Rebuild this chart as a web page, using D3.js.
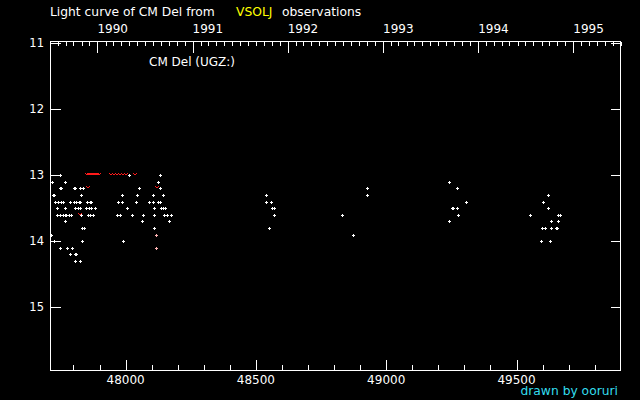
<!DOCTYPE html>
<html><head><meta charset="utf-8">
<script src="https://cdn.jsdelivr.net/npm/d3@7"></script>
<style>
html,body{margin:0;padding:0;background:#000;}
svg{display:block;}
text{font-family:"DejaVu Sans",sans-serif;}
</style>
</head><body>
<svg id="chart" width="640" height="400"></svg>
<script>
// ---- data (MJD = JD - 2400000, visual magnitude) ----
const obsMJD = [
 47749,
 47719,47769,
 47747,47753,47801,47807,47824,47836,
 47720,47726,47828,
 47730,47741,47751,47760,47785,47801,47811,47820,47826,47852,47862,47868,
 47738,47769,47805,47817,47826,47849,47858,47866,47884,
 47738,47747,47760,47766,47772,47782,47792,47830,47856,47862,47875,
 47766,
 47834,47839,
 47715,
 47725,47834,
 47749,47775,47794,
 47785,47805,47811,
 47807,47826,
 48014,48133,
 48125,
 48053,48133,
 47985,48043,48106,48142,
 47972,47987,48039,48091,48106,48123,48132,
 48004,48110,48135,48145,48151,
 47966,47978,48023,48068,48110,48148,48160,48173,
 48064,48168,
 48110,
 47991,
 48540,48540,48559,48560,48568,48571,48551,48832,48928,48928,48874,
 49242,49273,49307,49251,49258,49273,49277,49242,
 49622,49603,49622,49553,49660,49666,49634,49660,49599,49611,49634,49650,49656,49595,49630
];
const obsMag = [
 13.0,
 13.1,13.1,
 13.2,13.2,13.2,13.2,13.2,13.2,
 13.3,13.3,13.3,
 13.4,13.4,13.4,13.4,13.4,13.4,13.4,13.4,13.4,13.4,13.4,13.4,
 13.5,13.5,13.5,13.5,13.5,13.5,13.5,13.5,13.5,
 13.6,13.6,13.6,13.6,13.6,13.6,13.6,13.6,13.6,13.6,13.6,
 13.7,
 13.8,13.8,
 13.9,
 14.0,14.0,
 14.1,14.1,14.1,
 14.2,14.2,14.2,
 14.3,14.3,
 13.0,13.0,
 13.1,
 13.2,13.2,
 13.3,13.3,13.3,13.3,
 13.4,13.4,13.4,13.4,13.4,13.4,13.4,
 13.5,13.5,13.5,13.5,13.5,
 13.6,13.6,13.6,13.6,13.6,13.6,13.6,13.6,
 13.7,13.7,
 13.8,
 14.0,
 13.3,13.4,13.4,13.5,13.5,13.6,13.8,13.6,13.2,13.3,13.9,
 13.1,13.2,13.4,13.5,13.5,13.5,13.6,13.7,
 13.3,13.4,13.5,13.6,13.6,13.6,13.7,13.7,13.8,13.8,13.8,13.8,13.8,14.0,14.0
];
// fainter-than limits (red v)
const limitMJD = [47852,47860,47868,47875,47883,47891,47898,47944,47955,47967,47978,47990,48001,48036,47857,48122,47826];
const limitMag = [13.0,13.0,13.0,13.0,13.0,13.0,13.0,13.0,13.0,13.0,13.0,13.0,13.0,13.0,13.2,13.2,13.6];
// uncertain observations (pink +)
const uncMJD = [48118,48118];
const uncMag = [13.9,14.1];

const magTicks = [11,12,13,14,15];
const mjdTicks = [48000,48500,49000,49500];
const mjdMinorTicks = d3.range(47800,49900,100).filter(d => d % 500 !== 0);

// ---- scales ----
const W = 640, H = 400;
const fL = 50.5, fR = 620.5, fT = 41.5, fB = 370.5;
const x = d3.scaleLinear().domain([47711, 49899]).range([50.3, 620.5]);
const y = d3.scaleLinear().domain([11, 16]).range([43.3, 373.3]);
const mjdToDate = m => new Date((m - 40587) * 86400000);
const xt = d3.scaleUtc().domain(x.domain().map(mjdToDate)).range(x.range());

const svg = d3.select("#chart");
svg.append("rect").attr("width",W).attr("height",H).attr("fill","#000");

const px = v => Math.round(v) + 0.5;

// frame
svg.append("rect").attr("x",fL).attr("y",fT)
  .attr("width",fR-fL).attr("height",fB-fT)
  .attr("fill","none").attr("stroke","#fff").attr("stroke-width",1)
  .attr("shape-rendering","crispEdges");

const g = svg.append("g").attr("stroke","#fff").attr("stroke-width",1).attr("shape-rendering","crispEdges");

// y ticks both sides
magTicks.forEach(m => {
  const yy = px(y(m));
  g.append("line").attr("x1",fL).attr("x2",fL+10).attr("y1",yy).attr("y2",yy);
  g.append("line").attr("x1",fR-10).attr("x2",fR).attr("y1",yy).attr("y2",yy);
});
svg.append("g").selectAll("text").data(magTicks).join("text")
  .attr("x",44).attr("y",d => y(d)+4).attr("text-anchor","end")
  .attr("fill","#fff").attr("font-size",11.5).text(d => d);

// bottom MJD ticks
mjdTicks.forEach(d => {
  const xx = px(x(d));
  g.append("line").attr("x1",xx).attr("x2",xx).attr("y1",fB).attr("y2",fB-11);
});
mjdMinorTicks.forEach(d => {
  const xx = px(x(d));
  g.append("line").attr("x1",xx).attr("x2",xx).attr("y1",fB).attr("y2",fB-6);
});
svg.append("g").selectAll("text").data(mjdTicks).join("text")
  .attr("x",d => x(d)).attr("y",384).attr("text-anchor","middle")
  .attr("fill","#fff").attr("font-size",12).text(d => d);

// top year / month ticks
const yearsT = xt.ticks(d3.utcYear);
const monthsT = xt.ticks(d3.utcMonth).filter(d => d.getUTCMonth() !== 0);
monthsT.forEach(d => {
  const xx = px(xt(d));
  g.append("line").attr("x1",xx).attr("x2",xx).attr("y1",fT).attr("y2",fT+4);
});
yearsT.forEach(d => {
  const xx = px(xt(d));
  g.append("line").attr("x1",xx).attr("x2",xx).attr("y1",fT).attr("y2",fT+11);
});
svg.append("g").selectAll("text").data(yearsT).join("text")
  .attr("x",d => xt(d)).attr("y",33).attr("text-anchor","start")
  .attr("fill","#fff").attr("font-size",12).text(d => d.getUTCFullYear());

// title
svg.append("text").attr("x",50).attr("y",16).attr("fill","#fff").attr("font-size",12.3).text("Light curve of CM Del from");
svg.append("text").attr("x",236).attr("y",16).attr("fill","#ffff00").attr("font-size",12.3).text("VSOLJ");
svg.append("text").attr("x",282).attr("y",16).attr("fill","#fff").attr("font-size",12.3).text("observations");
svg.append("text").attr("x",149).attr("y",66).attr("fill","#fff").attr("font-size",12).text("CM Del (UGZ:)");
svg.append("text").attr("x",618).attr("y",395).attr("text-anchor","end").attr("fill","#33ddee").attr("font-size",12.3).text("drawn by ooruri");

// marks
const plotG = svg.append("g");
const plus = (cx, cy) => `M${cx-1},${cy+0.5}h3M${cx+0.5},${cy-1}v3`;
const obs = obsMJD.map((d,i) => ({m:d, v:obsMag[i]}));
plotG.append("g").selectAll("path").data(obs).join("path")
  .attr("d", d => plus(Math.round(x(d.m)), Math.round(y(d.v))))
  .attr("stroke","#fff").attr("stroke-width",1).attr("fill","none")
  .attr("shape-rendering","crispEdges");

const unc = uncMJD.map((d,i) => ({m:d, v:uncMag[i]}));
plotG.append("g").selectAll("path").data(unc).join("path")
  .attr("d", d => plus(Math.round(x(d.m)), Math.round(y(d.v))))
  .attr("stroke","#ffb4b4").attr("stroke-width",1).attr("fill","none")
  .attr("shape-rendering","crispEdges");

const lim = limitMJD.map((d,i) => ({m:d, v:limitMag[i]}));
plotG.append("g").selectAll("path").data(lim).join("path")
  .attr("d", d => {
    const cx = Math.round(x(d.m)), cy = Math.round(y(d.v)) - 1;
    return `M${cx-2},${cy-1}L${cx},${cy+1}L${cx+2},${cy-1}`;
  })
  .attr("stroke","#ff1a1a").attr("stroke-width",1).attr("fill","none");
</script>
</body></html>
